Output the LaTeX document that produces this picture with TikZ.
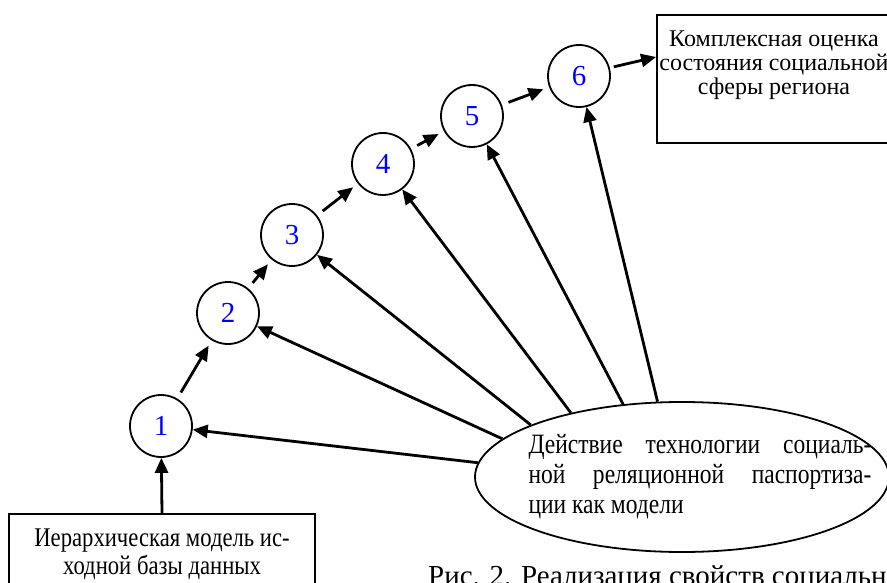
\documentclass[tikz,border=0pt]{standalone}
\usepackage{fontspec}
\setmainfont{Liberation Serif}
\newfontfamily\narrowfont[FakeStretch=0.84]{Liberation Serif}
\usetikzlibrary{shapes.geometric,arrows.meta}
\begin{document}
\begin{tikzpicture}[x=1pt,y=-1pt,
  num/.style={circle,draw,line width=1.8pt,minimum size=62pt,inner sep=0pt,text=blue,font=\fontsize{29}{29}\selectfont},
  arr/.style={line width=2.8pt,-{Triangle[length=15pt,width=13pt]}},
  chain/.style={arr,shorten <=7pt,shorten >=6pt},
  box/.style={draw,line width=1.8pt,inner sep=0pt},
  plain/.style={inner sep=0pt}]
\useasboundingbox (0,0) rectangle (887,583);
\clip (0,0) rectangle (887,583);
% circles
\node[num] (c1) at (161,426) {1};
\node[num] (c2) at (228,313) {2};
\node[num] (c3) at (292,235) {3};
\node[num] (c4) at (383,164) {4};
\node[num] (c5) at (472,116) {5};
\node[num] (c6) at (579,76) {6};
% result box
\node[box,minimum width=234pt,minimum height=128pt] (res) at (774,79) {};
\node[plain,align=center,font=\fontsize{24}{24}\selectfont] (restext) at (774,65)
  {Комплексная оценка\\состояния социальной\\сферы региона};
% source box
\node[box,minimum width=306pt,minimum height=100pt,anchor=north] (src) at (162,513) {};
\node[plain,align=center,font=\narrowfont\fontsize{27}{28}\selectfont] (srctext) at (162,554)
  {Иерархическая модель ис-\\ходной базы данных};
% ellipse
\node[draw,ellipse,line width=1.8pt,minimum width=414pt,minimum height=150pt,inner sep=0pt] (ell) at (682,477) {};
\node[plain,text width=343pt,align=justify,font=\narrowfont\fontsize{28}{30}\selectfont] (elltext) at (700,477)
  {Действие технологии социаль-\linebreak ной реляционной паспортиза-\linebreak ции как модели};
% caption
\node[plain,anchor=base west,font=\fontsize{29}{29}\selectfont] (cap) at (428,585)
  {Рис. 2. Реализация свойств социальн};
% arrows
\draw[arr] (src.north) -- (c1);
\draw[chain] (c1) -- (c2);
\draw[chain] (c2) -- (c3);
\draw[chain] (c3) -- (c4);
\draw[chain] (c4) -- (c5);
\draw[chain] (c5) -- (c6);
\draw[arr,shorten <=4pt] (c6.15) -- ([yshift=22pt]res.west);
\draw[arr] (ell.176) -- (c1);
\draw[arr] (ell.168.6) -- (c2);
\draw[arr] (ell.161.8) -- (c3);
\draw[arr] (ell.150) -- (c4);
\draw[arr] (ell.129.4) -- (c5);
\draw[arr] (ell.108.7) -- (c6);
\end{tikzpicture}
\end{document}
